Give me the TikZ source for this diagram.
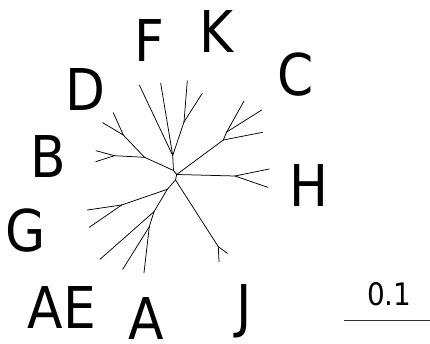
\documentclass[tikz,border=0pt]{standalone}
\usepackage{fontspec}
\setmainfont{DejaVu Sans Condensed}
\begin{document}
\begin{tikzpicture}[x={(1pt,0)},y={(0,-1pt)},
  branch/.style={draw=black,line width=0.75pt,line cap=round},
  taxon/.style={inner sep=0pt,anchor=base,font=\fontsize{57.6}{60}\selectfont},
  scalelbl/.style={inner sep=0pt,anchor=base,font=\fontsize{31}{33}\selectfont}]
\useasboundingbox (0,0) rectangle (430,344);
% internal nodes
\coordinate (c) at (176.7,174.5);
\coordinate (a) at (173.5,170.5);
\coordinate (b) at (175.5,180);
\coordinate (fk) at (172.7,155.5);
\coordinate (kj) at (184,122);
\coordinate (bd) at (144.5,157.3);
\coordinate (bj) at (114.3,155.7);
\coordinate (dj) at (123.3,135);
\coordinate (cj) at (223.3,140);
\coordinate (cj2) at (226.7,132);
\coordinate (hj) at (235,176);
\coordinate (jj) at (218.3,246.7);
\coordinate (ga) at (167.3,189.3);
\coordinate (gj) at (121.7,205);
\coordinate (aj) at (154,211.7);
\coordinate (aj2) at (149.3,226.7);
% leaves
\coordinate (f1) at (139.3,85);
\coordinate (f2) at (160.7,83.3);
\coordinate (k1) at (187.3,80.7);
\coordinate (k2) at (202.3,93.3);
\coordinate (b1) at (96,150.7);
\coordinate (b2) at (95.7,161.7);
\coordinate (d1) at (113.3,112.7);
\coordinate (d2) at (102.7,122.7);
\coordinate (c1) at (244,101);
\coordinate (c2) at (261.7,110);
\coordinate (c3) at (262.7,132.3);
\coordinate (h1) at (269.3,169);
\coordinate (h2) at (267.7,187.3);
\coordinate (j1) at (227.3,253.3);
\coordinate (j2) at (219,261.7);
\coordinate (g1) at (87.3,210);
\coordinate (g2) at (89.3,227.3);
\coordinate (a1) at (100,259.3);
\coordinate (a2) at (122.7,269.3);
\coordinate (a3) at (144,272.7);
% branches
\draw[branch] (c) -- (a);
\draw[branch] (c) -- (b);
\draw[branch] (a) -- (fk);
\draw[branch] (fk) -- (f1);
\draw[branch] (fk) -- (f2);
\draw[branch] (fk) -- (kj);
\draw[branch] (kj) -- (k1);
\draw[branch] (kj) -- (k2);
\draw[branch] (a) -- (bd);
\draw[branch] (bd) -- (bj);
\draw[branch] (bj) -- (b1);
\draw[branch] (bj) -- (b2);
\draw[branch] (bd) -- (dj);
\draw[branch] (dj) -- (d1);
\draw[branch] (dj) -- (d2);
\draw[branch] (c) -- (cj);
\draw[branch] (cj) -- (cj2);
\draw[branch] (cj2) -- (c1);
\draw[branch] (cj2) -- (c2);
\draw[branch] (cj) -- (c3);
\draw[branch] (c) -- (hj);
\draw[branch] (hj) -- (h1);
\draw[branch] (hj) -- (h2);
\draw[branch] (b) -- (jj);
\draw[branch] (jj) -- (j1);
\draw[branch] (jj) -- (j2);
\draw[branch] (b) -- (ga);
\draw[branch] (ga) -- (gj);
\draw[branch] (gj) -- (g1);
\draw[branch] (gj) -- (g2);
\draw[branch] (ga) -- (aj);
\draw[branch] (aj) -- (a1);
\draw[branch] (aj) -- (aj2);
\draw[branch] (aj2) -- (a2);
\draw[branch] (aj2) -- (a3);
% labels
\node[taxon] (lF) at (149.7,61.7) {F};
\node[taxon] (lK) at (216.3,52.7) {K};
\node[taxon] (lC) at (295.5,95.7) {C};
\node[taxon] (lD) at (85,111) {D};
\node[taxon] (lB) at (48.5,178) {B};
\node[taxon] (lH) at (309,206.7) {H};
\node[taxon] (lG) at (26,251.7) {G};
\node[taxon] (lAE) at (62,328.3) {AE};
\node[taxon] (lA) at (145.8,339.5) {A};
\node[taxon] (lJ) at (244,326) {J};
% scale bar
\coordinate (s1) at (344,320.7);
\coordinate (s2) at (430,320.7);
\draw[line width=0.9pt,draw=black!80] (s1) -- (s2);
\node[scalelbl] (sl) at (389.2,305) {0.1};
\end{tikzpicture}
\end{document}
